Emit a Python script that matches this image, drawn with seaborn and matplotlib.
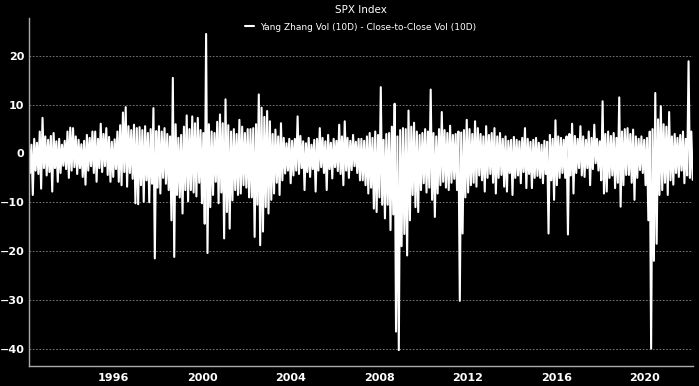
import numpy as np
import pandas as pd
import matplotlib
matplotlib.use("Agg")
import matplotlib.pyplot as plt
import matplotlib.dates as mdates
import seaborn as sns

# SPX: Yang Zhang Vol (10D) minus Close-to-Close Vol (10D).
# Eight upper / lower swings per year, starting Mar 1992.
upper = [
    2.5, 1.8, 3.0, 2.2, 4.5, 7.3, 3.5, 2.8,    # 1992
    3.6, 4.2, 2.5, 3.0, 1.8, 2.6, 4.5, 5.3,    # 1993
    5.2, 3.5, 2.8, 1.9, 2.6, 3.8, 3.2, 4.5,    # 1994
    4.5, 3.0, 6.1, 4.0, 5.2, 3.4, 2.4, 2.9,    # 1995
    4.5, 5.8, 8.4, 9.5, 5.6, 4.8, 5.9, 5.2,    # 1996
    5.4, 4.8, 5.6, 4.2, 5.0, 9.3, 4.6, 5.6,    # 1997
    4.5, 5.2, 4.0, 3.5, 15.5, 6.0, 3.2, 3.8,   # 1998
    5.5, 7.8, 5.0, 7.6, 6.2, 7.3, 4.8, 4.2,    # 1999
    24.5, 6.0, 4.5, 4.2, 6.5, 8.0, 6.2, 11.1,  # 2000
    5.8, 4.5, 5.0, 4.0, 6.9, 5.5, 4.2, 5.0,    # 2001
    5.0, 5.2, 6.0, 12.1, 9.4, 7.5, 8.7, 6.6,   # 2002
    4.0, 4.9, 3.5, 6.2, 3.2, 2.1, 3.0, 2.6,    # 2003
    3.0, 7.6, 3.6, 2.5, 2.1, 3.2, 1.8, 2.8,    # 2004
    3.0, 5.2, 3.2, 2.5, 3.8, 2.2, 3.0, 2.6,    # 2005
    5.9, 3.5, 6.6, 3.2, 2.6, 3.8, 2.4, 3.0,    # 2006
    3.0, 2.6, 3.5, 4.2, 3.2, 4.5, 3.8, 13.6,   # 2007
    2.8, 4.0, 4.2, 5.5, 10.2, 3.5, 4.8, 5.2,   # 2008
    5.0, 8.8, 5.5, 6.3, 4.5, 3.8, 4.2, 5.0,    # 2009
    4.5, 13.1, 4.2, 3.5, 5.0, 8.5, 4.8, 4.2,   # 2010
    5.7, 3.8, 4.0, 4.5, 4.3, 4.8, 6.9, 5.0,    # 2011
    4.0, 6.6, 5.2, 4.0, 3.5, 5.6, 3.8, 4.2,    # 2012
    5.2, 3.5, 4.2, 3.0, 3.5, 2.6, 2.8, 3.4,    # 2013
    2.8, 2.5, 3.2, 5.2, 3.0, 2.4, 2.8, 3.2,    # 2014
    2.2, 1.8, 2.6, 2.4, 3.8, 3.0, 6.8, 3.5,    # 2015
    3.2, 2.8, 3.5, 4.0, 6.1, 3.6, 3.0, 5.6,    # 2016
    3.5, 2.8, 4.5, 3.2, 5.9, 3.0, 2.5, 10.7,   # 2017
    4.0, 4.5, 3.6, 4.2, 3.2, 11.5, 4.5, 5.0,   # 2018
    5.2, 4.0, 4.9, 3.5, 3.0, 3.5, 2.8, 3.2,    # 2019
    4.5, 5.0, 12.4, 7.0, 9.7, 6.0, 5.5, 8.5,   # 2020
    3.5, 4.0, 3.2, 3.8, 4.5, 3.0, 18.9, 4.5,   # 2021
]
lower = [
    -4.0, -8.5, -3.5, -4.2, -7.2, -3.0, -4.5, -3.8,
    -7.8, -3.0, -5.8, -4.0, -2.5, -3.2, -5.0, -3.5,
    -2.8, -4.2, -3.0, -4.8, -6.4, -3.5, -2.6, -4.0,
    -5.8, -3.0, -3.8, -2.6, -4.4, -5.8, -4.8, -3.2,
    -5.8, -6.5, -3.8, -6.8, -4.0, -5.2, -10.2, -10.4,
    -6.5, -9.9, -5.5, -10.0, -6.2, -21.5, -7.0, -8.2,
    -5.0, -6.2, -7.5, -13.7, -21.2, -8.5, -9.0, -12.3,
    -7.5, -9.8, -7.5, -8.0, -8.8, -6.0, -10.2, -14.4,
    -20.4, -11.0, -8.5, -5.8, -10.2, -8.0, -17.4, -12.0,
    -15.4, -9.6, -7.5, -8.5, -8.2, -6.5, -7.0, -9.0,
    -9.0, -17.1, -10.5, -18.8, -16.0, -11.0, -12.3, -9.5,
    -8.2, -6.0, -8.5, -5.5, -4.1, -3.5, -6.1, -4.5,
    -3.5, -4.2, -3.0, -7.5, -3.8, -4.8, -3.2, -7.8,
    -3.5, -2.8, -4.0, -7.5, -3.2, -5.1, -2.8, -3.6,
    -4.2, -6.5, -3.5, -5.0, -3.4, -2.6, -4.0, -5.5,
    -5.5, -6.5, -8.2, -7.0, -11.3, -12.0, -9.0, -10.5,
    -13.3, -10.5, -15.7, -12.5, -36.5, -40.3, -19.0, -16.5,
    -20.9, -13.7, -8.5, -11.0, -12.0, -7.5, -6.1, -8.0,
    -7.0, -9.5, -13.0, -8.2, -6.5, -5.8, -7.0, -7.5,
    -6.0, -5.2, -7.5, -30.2, -16.4, -9.0, -8.0, -6.5,
    -6.0, -6.8, -4.5, -5.5, -7.8, -5.0, -4.2, -6.0,
    -8.2, -5.0, -4.4, -6.8, -7.8, -4.0, -8.5, -5.0,
    -4.5, -6.1, -3.8, -7.1, -4.2, -7.1, -5.0, -4.6,
    -5.0, -6.1, -4.2, -16.4, -5.5, -9.5, -6.5, -5.0,
    -4.0, -5.0, -16.6, -4.5, -8.2, -4.0, -3.0, -4.5,
    -4.8, -3.0, -6.5, -3.2, -2.0, -3.5, -5.5, -8.2,
    -7.8, -5.0, -4.5, -7.1, -6.0, -10.9, -6.5, -4.4,
    -4.4, -6.0, -9.5, -5.0, -3.4, -4.0, -6.5, -13.7,
    -40.0, -22.0, -18.5, -8.5, -7.5, -6.0, -8.5, -5.5,
    -6.4, -4.0, -4.8, -3.5, -6.1, -4.5, -5.0, -5.4,
]

title = "SPX Index"
series_name = "Yang Zhang Vol (10D) - Close-to-Close Vol (10D)"

spread = np.empty(len(upper) * 2)
spread[0::2] = upper
spread[1::2] = lower
dates = pd.date_range("1992-03-01", "2022-03-01", periods=len(spread))
df = pd.DataFrame({"date": dates, series_name: spread})

sns.set_theme(style="dark", rc={
    "figure.facecolor": "black",
    "axes.facecolor": "black",
    "axes.edgecolor": "#aaaaaa",
    "text.color": "white",
    "xtick.color": "white",
    "ytick.color": "white",
})
plt.rcParams['font.family'] = ['DejaVu Sans']

fig, ax = plt.subplots(figsize=(6.99, 3.86), dpi=100)
fig.subplots_adjust(left=0.041, right=0.991, bottom=0.052, top=0.953)

sns.lineplot(data=df, x="date", y=series_name, color="white", lw=1.5,
             estimator=None, label=series_name, ax=ax)

ax.set_xlim(dates[0], dates[-1])
ax.set_yticks([-40, -30, -20, -10, 0, 10, 20])
ax.xaxis.set_major_locator(mdates.YearLocator(4))
ax.xaxis.set_major_formatter(mdates.DateFormatter("%Y"))
ax.set_xlabel("")
ax.set_ylabel("")

ax.grid(axis="y", color="#888888", linestyle=(0, (2, 2)), linewidth=0.6)
ax.grid(axis="x", visible=False)
for s in ["top", "right"]:
    ax.spines[s].set_visible(False)
for s in ["left", "bottom"]:
    ax.spines[s].set_linewidth(1.0)

ax.tick_params(axis="x", length=3, width=0.8, color="#aaaaaa", pad=2, labelsize=8)
ax.tick_params(axis="y", length=0, pad=3, labelsize=8)
for lab in ax.get_xticklabels() + ax.get_yticklabels():
    lab.set_fontweight("bold")

ax.set_title(title, fontsize=7.5, color="white", pad=4)
leg = ax.legend(loc="upper center", frameon=False, fontsize=6.5,
                handlelength=1.0, handletextpad=0.6, borderaxespad=0.1)
for t in leg.get_texts():
    t.set_color("white")

fig.savefig("out.png", dpi=100, facecolor="black")
